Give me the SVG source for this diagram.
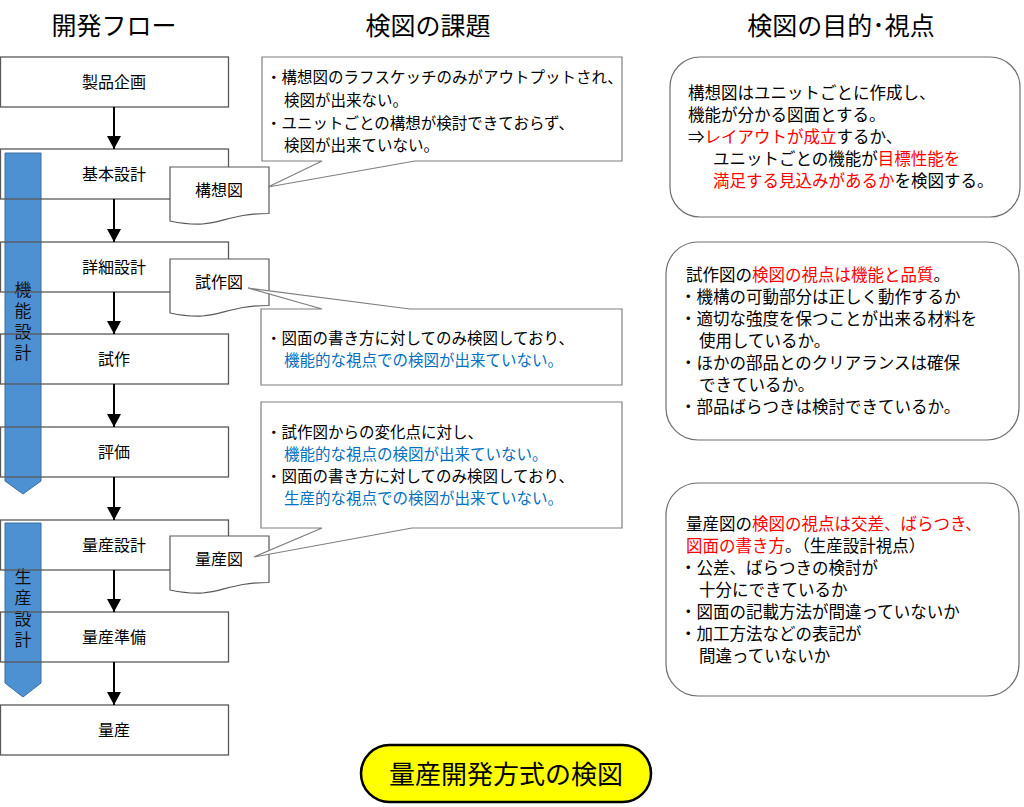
<svg xmlns="http://www.w3.org/2000/svg" xmlns:xlink="http://www.w3.org/1999/xlink" width="1024" height="807" viewBox="0 0 1024 807">
<style>
text{font-family:"Noto Sans CJK JP","Noto Sans",sans-serif;fill:#000}
.h{font-size:25px;text-anchor:middle}
.p{font-size:16px;text-anchor:middle}
.t{font-size:15.5px}
.u{font-size:16.5px}
.box{fill:none;stroke:#595959;stroke-width:1.3}
.doc{fill:#fff;stroke:#595959;stroke-width:1.2}
.call{fill:#fff;stroke:#7f7f7f;stroke-width:1.2}
.rbox{fill:#fff;stroke:#6f6f6f;stroke-width:1.2}
.bar{fill:#4e91d2;stroke:#3b6fa3;stroke-width:1}
.bt{font-size:17px;fill:#111;writing-mode:vertical-rl;letter-spacing:4px}
.r{fill:#ff0000}
.b{fill:#0070c0}
.conn line{stroke:#000;stroke-width:2;marker-end:url(#ah)}
</style>
<defs>
<marker id="ah" viewBox="0 0 13 14" refX="13" refY="7" markerWidth="13" markerHeight="14" markerUnits="userSpaceOnUse" orient="auto">
<path d="M0,0 L13,7 L0,14 Z" fill="#000"/>
</marker>
<path id="docshape" d="M0,0 H99 V46.5 C49.5,46.5 49.5,64.2 0,54 Z"/>
</defs>
<rect width="1024" height="807" fill="#fff"/>

<g id="headers">
<text class="h" x="114" y="35">開発フロー</text>
<text class="h" x="428" y="35">検図の課題</text>
<text class="h" x="841" y="35">検図の目的･視点</text>
</g>

<g id="bar-kinou">
<polygon class="bar" points="5,153 41,153 41,481 23,494 5,481"/>
<text class="bt" x="23" y="281">機能設計</text>
</g>
<g id="bar-seisan">
<polygon class="bar" points="5,523 41,523 41,683 23,697 5,683"/>
<text class="bt" x="23" y="568">生産設計</text>
</g>

<g id="n-seihin"><rect class="box" x="0.5" y="57" width="228" height="50"/><text class="p" x="114" y="88">製品企画</text></g>
<g id="n-kihon"><rect class="box" x="0.5" y="149" width="228" height="50"/><text class="p" x="114" y="180">基本設計</text></g>
<g id="n-shousai"><rect class="box" x="0.5" y="242" width="228" height="50"/><text class="p" x="114" y="273">詳細設計</text></g>
<g id="n-shisaku"><rect class="box" x="0.5" y="334" width="228" height="50"/><text class="p" x="114" y="365">試作</text></g>
<g id="n-hyouka"><rect class="box" x="0.5" y="427" width="228" height="50"/><text class="p" x="114" y="458">評価</text></g>
<g id="n-ryousansekkei"><rect class="box" x="0.5" y="520" width="228" height="50"/><text class="p" x="114" y="551">量産設計</text></g>
<g id="n-ryousanjunbi"><rect class="box" x="0.5" y="612" width="228" height="50"/><text class="p" x="114" y="643">量産準備</text></g>
<g id="n-ryousan"><rect class="box" x="0.5" y="705" width="228" height="50"/><text class="p" x="114" y="736">量産</text></g>

<g class="conn" id="connectors">
<line x1="114" y1="107" x2="114" y2="149"/>
<line x1="114" y1="199" x2="114" y2="242"/>
<line x1="114" y1="292" x2="114" y2="334"/>
<line x1="114" y1="384" x2="114" y2="427"/>
<line x1="114" y1="477" x2="114" y2="520"/>
<line x1="114" y1="570" x2="114" y2="612"/>
<line x1="114" y1="662" x2="114" y2="705"/>
</g>

<g id="doc-kousou"><use xlink:href="#docshape" href="#docshape" class="doc" transform="translate(170,167)"/><text class="p" x="219" y="196">構想図</text></g>
<g id="doc-shisaku"><use xlink:href="#docshape" href="#docshape" class="doc" transform="translate(170,259)"/><text class="p" x="219" y="288">試作図</text></g>
<g id="doc-ryousan"><use xlink:href="#docshape" href="#docshape" class="doc" transform="translate(170,536)"/><text class="p" x="219" y="565">量産図</text></g>

<g id="callout-1">
<path class="call" d="M262,57 H622 V161 H415 L268,187 L322,161 H262 Z"/>
<text class="t"><tspan x="266" y="83">・構想図のラフスケッチのみがアウトプットされ、</tspan><tspan x="284" y="106">検図が出来ない。</tspan><tspan x="266" y="129">・ユニットごとの構想が検討できておらず、</tspan><tspan x="284" y="151">検図が出来ていない。</tspan></text>
</g>

<g id="callout-2">
<path class="call" d="M261,309 H322 L248,288 L410,309 H622 V385 H261 Z"/>
<text class="t"><tspan x="266" y="344">・図面の書き方に対してのみ検図しており、</tspan><tspan class="b" x="284" y="366">機能的な視点での検図が出来ていない。</tspan></text>
</g>

<g id="callout-3">
<path class="call" d="M261,402 H622 V528 H412 L254,557 L322,528 H261 Z"/>
<text class="t"><tspan x="266" y="438">・試作図からの変化点に対し、</tspan><tspan class="b" x="284" y="460">機能的な視点の検図が出来ていない。</tspan><tspan x="266" y="482">・図面の書き方に対してのみ検図しており、</tspan><tspan class="b" x="284" y="504">生産的な視点での検図が出来ていない。</tspan></text>
</g>

<g id="purpose-1">
<rect class="rbox" x="670" y="57" width="350" height="160" rx="30"/>
<text class="u"><tspan x="688" y="99">構想図はユニットごとに作成し、</tspan><tspan x="688" y="121">機能が分かる図面とする。</tspan><tspan x="688" y="143">⇒</tspan><tspan class="r">レイアウトが成立</tspan><tspan>するか、</tspan><tspan x="713" y="165">ユニットごとの機能が</tspan><tspan class="r">目標性能を</tspan><tspan class="r" x="713" y="187">満足する見込みがあるか</tspan><tspan>を検図する。</tspan></text>
</g>

<g id="purpose-2">
<rect class="rbox" x="666" y="242" width="353" height="198" rx="32"/>
<text class="u"><tspan x="686" y="281">試作図の</tspan><tspan class="r">検図の視点は機能と品質</tspan><tspan>。</tspan><tspan x="680" y="303">・機構の可動部分は正しく動作するか</tspan><tspan x="680" y="325">・適切な強度を保つことが出来る材料を</tspan><tspan x="699" y="347">使用しているか。</tspan><tspan x="680" y="369">・ほかの部品とのクリアランスは確保</tspan><tspan x="699" y="391">できているか。</tspan><tspan x="680" y="413">・部品ばらつきは検討できているか。</tspan></text>
</g>

<g id="purpose-3">
<rect class="rbox" x="666" y="483" width="353" height="213" rx="32"/>
<text class="u"><tspan x="686" y="530">量産図の</tspan><tspan class="r">検図の視点は交差、ばらつき、</tspan><tspan class="r" x="686" y="552">図面の書き方</tspan><tspan>。（生産設計視点）</tspan><tspan x="680" y="574">・公差、ばらつきの検討が</tspan><tspan x="699" y="596">十分にできているか</tspan><tspan x="680" y="618">・図面の記載方法が間違っていないか</tspan><tspan x="680" y="640">・加工方法などの表記が</tspan><tspan x="699" y="662">間違っていないか</tspan></text>
</g>

<g id="title">
<rect x="361" y="745" width="290" height="57" rx="28.5" fill="#ffff00" stroke="#000" stroke-width="2.5"/>
<text x="506" y="784" style="font-size:26px;text-anchor:middle">量産開発方式の検図</text>
</g>
</svg>
